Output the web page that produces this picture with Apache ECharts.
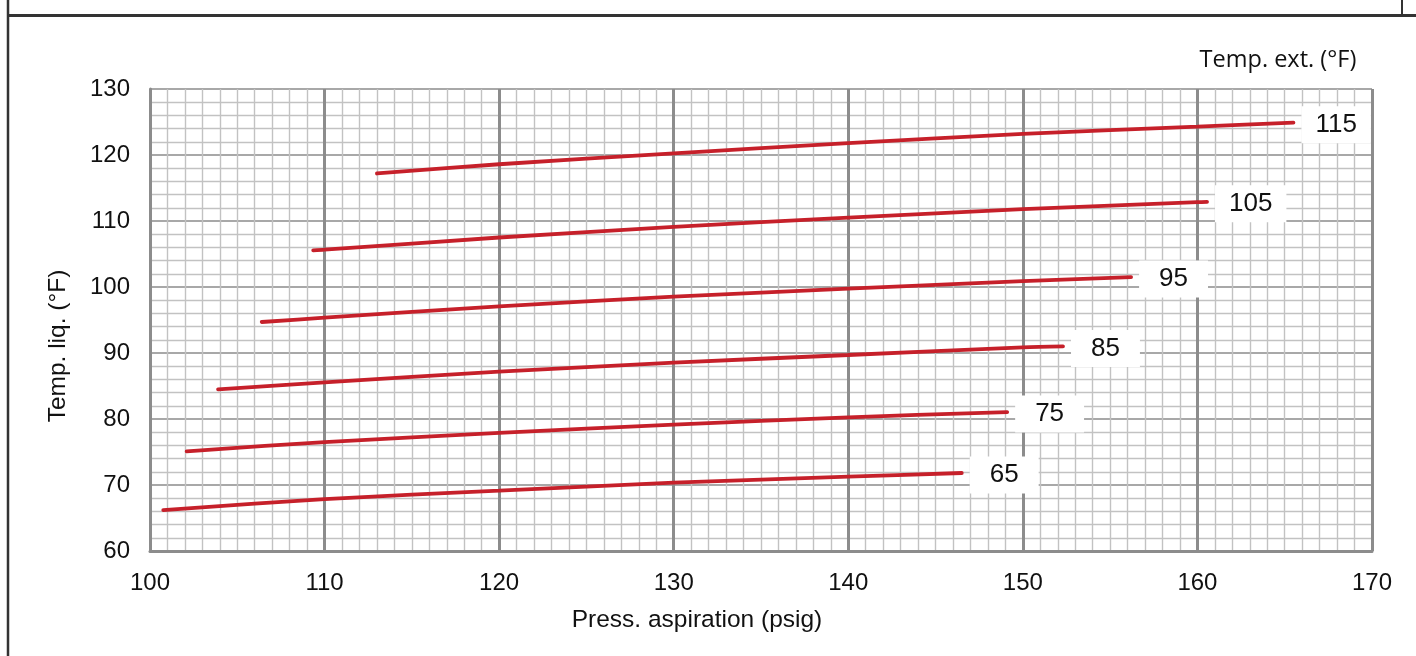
<!DOCTYPE html>
<html>
<head>
<meta charset="utf-8">
<script src="https://cdn.jsdelivr.net/npm/echarts@6/dist/echarts.min.js"></script>
<style>
html,body{margin:0;padding:0;background:#fff;}
#chart{width:1416px;height:656px;}
</style>
</head>
<body>
<div id="chart"></div>
<script>
// Axis ranges / ticks
const xMin = 100, xMax = 170, xStep = 10;
const yMin = 60, yMax = 130, yStep = 10;

// Curve labels (outdoor temperature, °F)
const curveNames = ['115', '105', '95', '85', '75', '65'];

// Suction pressure (psig) / liquid temperature (°F) for each curve
const p115 = [113.0, 120, 130, 140, 150, 160, 165.5];
const t115 = [117.2, 118.6, 120.25, 121.8, 123.2, 124.3, 124.9];

const p105 = [109.35, 110, 120, 130, 140, 150, 160, 160.55];
const t105 = [105.55, 105.65, 107.5, 109.1, 110.5, 111.8, 112.85, 112.9];

const p95 = [106.4, 110, 120, 130, 140, 150, 156.2];
const t95 = [94.7, 95.35, 97.07, 98.53, 99.74, 100.9, 101.5];

const p85 = [103.9, 110, 120, 130, 140, 150, 152.3];
const t85 = [84.5, 85.55, 87.17, 88.53, 89.7, 90.86, 91.0];

const p75 = [102.1, 110, 120, 130, 140, 149.1];
const t75 = [75.1, 76.5, 77.9, 79.14, 80.25, 81.05];

const p65 = [100.76, 110, 120, 130, 140, 146.5];
const t65 = [66.2, 67.85, 69.14, 70.35, 71.26, 71.82];

const curveP = [p115, p105, p95, p85, p75, p65];
const curveT = [t115, t105, t95, t85, t75, t65];

const FONT = '"Liberation Sans", Arial, sans-serif';
const RED = '#c6202a';

const chart = echarts.init(document.getElementById('chart'));

const series = curveNames.map((name, i) => {
  const hp = name.length > 2 ? 14 : 20;
  return {
    name: name,
    type: 'line',
    data: curveP[i].map((p, j) => [p, curveT[i][j]]),
    smooth: 0.3,
    showSymbol: false,
    symbol: 'none',
    lineStyle: { color: RED, width: 3.8, cap: 'round' },
    z: 5,
    endLabel: {
      show: true,
      formatter: '{a}',
      backgroundColor: '#ffffff',
      padding: [6, hp, 5, hp],
      distance: 8,
      color: '#111',
      fontFamily: FONT,
      fontSize: 26,
      offset: [0, 2]
    }
  };
});

chart.setOption({
  animation: false,
  backgroundColor: '#ffffff',
  grid: { left: 150, right: 44, top: 89, bottom: 105, containLabel: false },
  xAxis: {
    type: 'value',
    min: xMin, max: xMax, interval: xStep,
    axisLine: { show: true, onZero: false, lineStyle: { color: '#8c8c8c', width: 3 } },
    axisTick: { show: false },
    minorTick: { show: false, splitNumber: 10 },
    axisLabel: { color: '#111', fontFamily: FONT, fontSize: 24, margin: 20 },
    splitLine: { show: true, lineStyle: { color: '#8c8c8c', width: 3 } },
    minorSplitLine: { show: true, lineStyle: { color: '#c2c2c2', width: 1.4 } }
  },
  yAxis: {
    type: 'value',
    min: yMin, max: yMax, interval: yStep,
    axisLine: { show: true, lineStyle: { color: '#8c8c8c', width: 3 } },
    axisTick: { show: false },
    minorTick: { show: false, splitNumber: 5 },
    axisLabel: { color: '#111', fontFamily: FONT, fontSize: 24, margin: 20 },
    splitLine: { show: true, lineStyle: { color: '#a8a8a8', width: 1.8 } },
    minorSplitLine: { show: true, lineStyle: { color: '#c2c2c2', width: 1.4 } }
  },
  series: series,
  graphic: [
    { type: 'line', shape: { x1: 8, y1: 0, x2: 8, y2: 656 }, style: { stroke: '#333', lineWidth: 2.5 }, z: 100 },
    { type: 'line', shape: { x1: 8, y1: 15.5, x2: 1416, y2: 15.5 }, style: { stroke: '#333', lineWidth: 3 }, z: 100 },
    { type: 'line', shape: { x1: 1402, y1: 0, x2: 1402, y2: 15 }, style: { stroke: '#333', lineWidth: 2 }, z: 100 },
    {
      type: 'text', x: 1278, y: 60, z: 100,
      style: { text: 'Temp. ext. (°F)', align: 'center', verticalAlign: 'middle',
               font: '23.5px "Open Sans", sans-serif', fill: '#111' }
    },
    {
      type: 'text', x: 697, y: 620, z: 100,
      style: { text: 'Press. aspiration (psig)', align: 'center', verticalAlign: 'middle',
               font: '24.5px "Liberation Sans", Arial, sans-serif', fill: '#111' }
    },
    {
      type: 'text', x: 58, y: 346, rotation: Math.PI / 2, z: 100,
      style: { text: 'Temp. liq. (°F)', align: 'center', verticalAlign: 'middle',
               font: '24.5px "Liberation Sans", Arial, sans-serif', fill: '#111' }
    }
  ]
});
</script>
</body>
</html>
